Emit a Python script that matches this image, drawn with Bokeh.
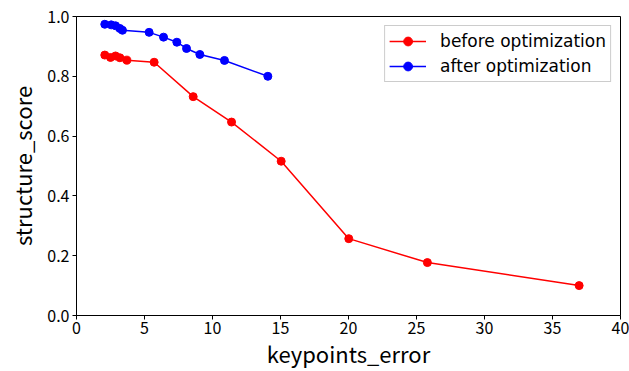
from bokeh.plotting import figure
from bokeh.embed import file_html
from bokeh.resources import INLINE
from bokeh.models import FixedTicker, Legend, LegendItem, NumeralTickFormatter

before_x = [2.08, 2.5, 2.87, 3.19, 3.7, 5.71, 8.58, 11.4, 15.05, 20.02, 25.8, 36.96]
before_y = [0.871, 0.863, 0.868, 0.862, 0.854, 0.847, 0.732, 0.647, 0.516, 0.257, 0.177, 0.10]
after_x = [2.08, 2.55, 2.87, 3.19, 3.38, 5.34, 6.4, 7.38, 8.09, 9.07, 10.88, 14.07]
after_y = [0.974, 0.972, 0.969, 0.96, 0.954, 0.947, 0.931, 0.914, 0.893, 0.873, 0.853, 0.80]
x_ticks = [0, 5, 10, 15, 20, 25, 30, 35, 40]
y_ticks = [0.0, 0.2, 0.4, 0.6, 0.8, 1.0]

FONT = "Noto Sans CJK JP"

p = figure(width=629, height=371, output_backend="svg", toolbar_location=None,
           x_range=(0, 40), y_range=(0, 1.0),
           min_border_left=76, min_border_right=9, min_border_top=16, min_border_bottom=56)

r1 = p.line(before_x, before_y, color="red", line_width=1.5)
c1 = p.scatter(before_x, before_y, color="red", size=8)
r2 = p.line(after_x, after_y, color="blue", line_width=1.5)
c2 = p.scatter(after_x, after_y, color="blue", size=8)

legend = Legend(items=[LegendItem(label="before optimization", renderers=[r1, c1]),
                       LegendItem(label="after optimization", renderers=[r2, c2])],
                location="top_right")
legend.label_text_font = "DejaVu Sans"
legend.label_text_font_size = "17px"
legend.label_text_color = "black"
legend.border_line_color = "#cccccc"
legend.border_line_alpha = 1
legend.margin = 9
legend.padding = 4
legend.spacing = 3
legend.glyph_width = 37
legend.label_standoff = 14
legend.label_height = 22
legend.glyph_height = 22
p.add_layout(legend)

p.grid.visible = False
p.outline_line_color = "black"
p.outline_line_alpha = 1

p.xaxis.ticker = FixedTicker(ticks=x_ticks)
p.yaxis.ticker = FixedTicker(ticks=y_ticks)
p.yaxis.formatter = NumeralTickFormatter(format="0.0")
p.xaxis.axis_label = "keypoints_error"
p.yaxis.axis_label = "structure_score"
for ax in (p.xaxis, p.yaxis):
    ax.axis_label_text_font = FONT
    ax.axis_label_text_font_size = "22px"
    ax.axis_label_text_font_style = "normal"
    ax.major_label_text_font = FONT
    ax.major_label_text_font_size = "16px"
    ax.minor_tick_line_color = None
    ax.major_tick_in = 0
    ax.major_tick_out = 4
    ax.major_label_standoff = 3
    ax.axis_line_color = "black"
    ax.major_tick_line_color = "black"
    ax.major_label_text_color = "black"
    ax.axis_label_text_color = "black"
p.xaxis.axis_label_standoff = 0
p.xaxis.major_label_standoff = 2
p.yaxis.axis_label_standoff = 6

open("out.html", "w").write(file_html(p, INLINE))
